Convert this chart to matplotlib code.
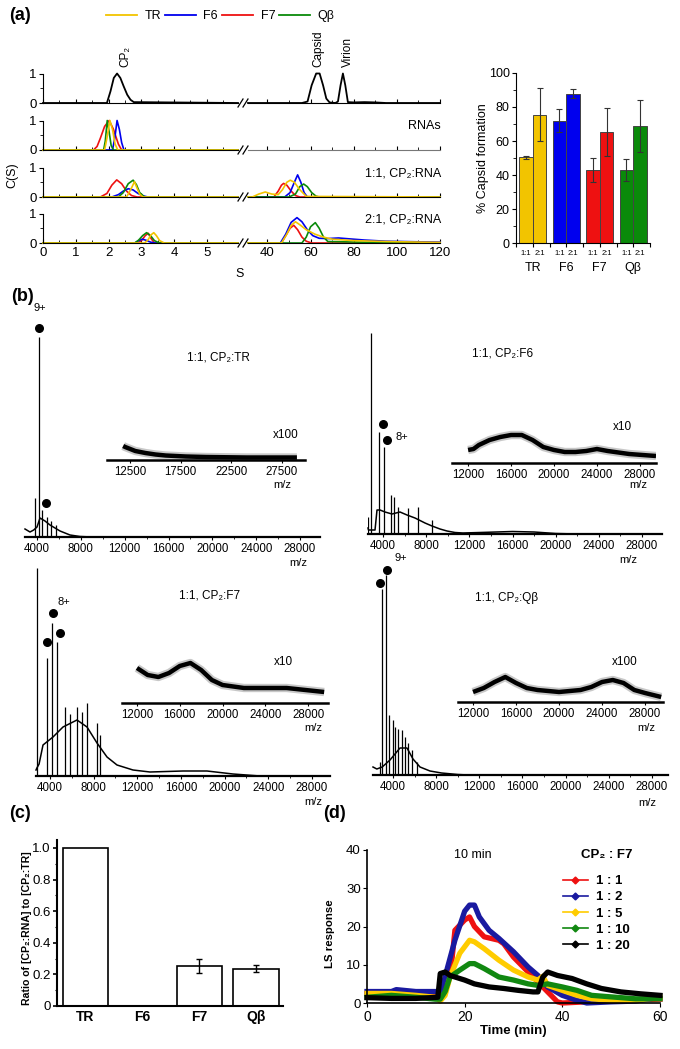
import numpy as np
import matplotlib
matplotlib.use('Agg')
import matplotlib.pyplot as plt
from matplotlib.lines import Line2D
from matplotlib.ticker import MultipleLocator, FixedLocator

plt.rcParams['font.family'] = ['Liberation Sans', 'DejaVu Sans']

#--------------------------------------------------------------------------
# data
rna_names = ['TR', 'F6', 'F7', 'Q\u03b2']
rna_colors = {'TR': '#f2c400', 'F6': '#0000ee', 'F7': '#ee1111', 'Q\u03b2': '#0a8a0a'}
draw_order = ['F7', 'F6', 'Q\u03b2', 'TR']

# (a) c(s) distributions, S on the left (0-6) and right (31-120) segments
cp2_left_s = [0, 1.95, 2.06, 2.16, 2.26, 2.36, 2.46, 2.57, 2.67, 2.77, 5.95]
cp2_left_c = [0, 0, 0.4, 0.85, 1.0, 0.85, 0.57, 0.28, 0.11, 0.03, 0]
cp2_right_s = [31, 56, 58.6, 60.5, 62.6, 64.2, 65.8, 67.3, 68.8, 71.5, 72.7, 73.9, 75, 76.1, 77.3, 80, 85, 90, 95, 120]
cp2_right_c = [0, 0, 0.05, 0.6, 1.0, 1.0, 0.6, 0.15, 0.02, 0, 0.05, 0.6, 1.0, 0.6, 0.03, 0.02, 0.03, 0.02, 0, 0]

rnas_left = {
    'F7': ([0, 1.54, 1.65, 1.75, 1.88, 2.02, 2.15, 2.3, 2.4, 5.95], [0, 0, 0.12, 0.4, 0.8, 1.0, 0.7, 0.2, 0, 0]),
    'F6': ([0, 2.12, 2.19, 2.26, 2.33, 2.4, 2.47, 5.95], [0, 0, 0.4, 1.0, 0.7, 0.25, 0, 0]),
    'Q\u03b2': ([0, 1.85, 1.9, 1.96, 2.02, 2.08, 2.15, 5.95], [0, 0, 0.3, 1.0, 0.6, 0.15, 0, 0]),
    'TR': ([0, 1.88, 1.95, 2.04, 2.12, 2.2, 2.28, 5.95], [0, 0, 0.4, 1.0, 0.7, 0.2, 0, 0]),
}

mix11_left = {
    'F7': ([0, 1.75, 1.95, 2.1, 2.25, 2.4, 2.55, 2.7, 2.87, 5.95], [0, 0, 0.12, 0.4, 0.58, 0.45, 0.2, 0.05, 0, 0]),
    'F6': ([0, 2.1, 2.3, 2.45, 2.6, 2.75, 2.9, 3.05, 3.2, 5.95], [0, 0, 0.08, 0.2, 0.28, 0.24, 0.12, 0.04, 0, 0]),
    'Q\u03b2': ([0, 2.3, 2.45, 2.6, 2.75, 2.85, 2.95, 3.1, 5.95], [0, 0, 0.15, 0.45, 0.57, 0.42, 0.15, 0, 0]),
    'TR': ([0, 2.55, 2.65, 2.72, 2.79, 2.87, 2.95, 3.05, 5.95], [0, 0, 0.2, 0.35, 0.52, 0.3, 0.1, 0, 0]),
}
mix11_right = {
    'F7': ([31, 43, 45, 46.5, 47.5, 49, 51, 53, 55, 120], [0, 0, 0.2, 0.4, 0.46, 0.4, 0.2, 0.05, 0, 0]),
    'F6': ([31, 48, 50.5, 52.5, 54, 55.5, 57, 58.5, 120], [0, 0, 0.15, 0.5, 0.75, 0.5, 0.15, 0, 0]),
    'Q\u03b2': ([31, 50, 53, 55, 56.8, 58.5, 60.5, 62.5, 64, 120], [0, 0, 0.1, 0.35, 0.44, 0.35, 0.15, 0.03, 0, 0]),
    'TR': ([31, 33, 36, 39, 42, 45, 47, 49, 50.6, 52.5, 55, 58, 120], [0, 0, 0.1, 0.17, 0.1, 0.08, 0.25, 0.5, 0.57, 0.5, 0.25, 0.02, 0]),
}
mix21_left = {
    'F7': ([0, 2.9, 3.02, 3.12, 3.21, 3.3, 3.4, 5.95], [0, 0, 0.1, 0.25, 0.33, 0.15, 0, 0]),
    'F6': ([0, 2.8, 2.92, 3.03, 3.15, 3.28, 3.4, 5.95], [0, 0, 0.08, 0.13, 0.09, 0.03, 0, 0]),
    'Q\u03b2': ([0, 2.8, 2.92, 3.04, 3.16, 3.28, 3.4, 3.55, 5.95], [0, 0, 0.1, 0.25, 0.35, 0.25, 0.08, 0, 0]),
    'TR': ([0, 3.1, 3.2, 3.3, 3.38, 3.46, 3.56, 3.7, 5.95], [0, 0, 0.1, 0.28, 0.35, 0.25, 0.08, 0, 0]),
}
mix21_right = {
    'F7': ([31, 46.5, 48.5, 50.5, 52.2, 54, 56, 58, 60.5, 120], [0, 0, 0.25, 0.5, 0.6, 0.45, 0.2, 0.06, 0, 0]),
    'TR': ([31, 46.5, 49, 51, 53, 55, 58, 62, 66, 70, 80, 95, 110, 120], [0, 0, 0.3, 0.6, 0.72, 0.62, 0.45, 0.3, 0.2, 0.13, 0.08, 0.05, 0.03, 0.02]),
    'Q\u03b2': ([31, 56, 58, 60, 62.2, 64, 66, 68, 75, 90, 120], [0, 0, 0.2, 0.55, 0.69, 0.5, 0.2, 0.05, 0.04, 0.02, 0]),
    'F6': ([31, 46, 48.5, 51, 53.7, 56, 58.5, 61, 64, 68, 73, 78, 85, 95, 110, 120], [0, 0, 0.3, 0.7, 0.86, 0.72, 0.45, 0.25, 0.16, 0.15, 0.17, 0.14, 0.1, 0.06, 0.04, 0.03]),
}
row_texts = ['', 'RNAs', '1:1, CP\u2082:RNA', '2:1, CP\u2082:RNA']

# (a) % capsid formation
capsid_11 = [50.3, 72.0, 42.9, 42.9]
capsid_11_err = [1.0, 6.6, 7.3, 6.5]
capsid_21 = [75.5, 87.8, 65.2, 68.7]
capsid_21_err = [15.4, 2.5, 14.3, 15.3]

# (b) mass spectra (m/z, relative intensity)
tr_env_mz = [2905, 3360, 3700, 4000, 4274, 4730, 5186, 5643, 6099, 6555, 7011, 7925, 9000, 29800]
tr_env_i = [8, 5, 7, 10, 19, 16, 12, 9, 6, 4, 2, 0.5, 0, 0]
tr_peak_mz = [3818, 4137, 4450, 4900, 5300, 5700]
tr_peak_i = [39, 200, 27, 20, 16, 12]
tr_dot_mz = [4137, 4793]
tr_dot_i = [209, 34]
tr_ins_mz = [11800, 12000, 12500, 13000, 14000, 15000, 16000, 18000, 20000, 24000, 29000]
tr_ins_i = [14, 13, 11, 9, 7, 5.5, 4.5, 3.5, 3, 2.5, 2.5]

f6_env_mz = [2610, 2650, 3260, 3444, 3722, 4185, 4834, 5575, 6224, 6965, 7892, 8540, 9282, 9930, 10670, 11400, 13000, 16000, 18000, 20000, 22000, 29853]
f6_env_i = [6, 4, 4, 24, 24, 22, 20, 22, 19, 16, 11, 8, 5, 3, 1.5, 1, 1.5, 2.5, 2, 0.5, 0, 0]
f6_peak_mz = [2630, 2888, 3657, 4120, 4710, 5020, 5390, 6316, 7243, 8540]
f6_peak_i = [17, 201, 102, 87, 39, 37, 27, 26, 27, 14]
f6_dot_mz = [4000, 4370]
f6_dot_i = [110, 94]
f6_ins_mz = [12000, 12500, 13000, 14000, 15000, 16000, 17000, 18000, 19000, 20000, 21000, 22000, 23000, 24000, 25000, 27000, 29500]
f6_ins_i = [13, 14, 18, 23, 26, 28, 28, 23, 16, 13, 11, 11, 12, 14, 12, 9, 7]

f7_env_mz = [2718, 2800, 3000, 3359, 4275, 5191, 6474, 7390, 8306, 9222, 10138, 11603, 13160, 16183, 18380, 20763, 23236, 29649]
f7_env_i = [6, 8, 12, 31, 39, 49, 56, 49, 33, 19, 11, 6, 4, 5, 5, 2, 0, 0]
f7_peak_mz = [2800, 3725, 4184, 4642, 5375, 5832, 6474, 6932, 7390, 8306, 8580]
f7_peak_i = [208, 118, 153, 134, 69, 62, 69, 64, 73, 53, 41]
f7_dot_mz = [3725, 4275, 4916]
f7_dot_i = [134, 163, 143]
f7_ins_mz = [12000, 13000, 14000, 15000, 16000, 17000, 18000, 19000, 20000, 22000, 26000, 29500]
f7_ins_i = [35, 28, 26, 30, 37, 40, 33, 23, 18, 15, 15, 11]

qb_env_mz = [2147, 2500, 3000, 3722, 4649, 5297, 5853, 6502, 7428, 8500, 10000, 11000, 29483]
qb_env_i = [8, 6, 8, 15, 27, 27, 16, 8, 4, 2, 0.5, 0, 0]
qb_peak_mz = [2796, 2981, 3352, 3630, 3999, 4185, 4460, 4834, 5112, 5390, 5760, 6224]
qb_peak_i = [13, 186, 200, 60, 55, 48, 46, 45, 38, 32, 25, 13]
qb_dot_mz = [2796, 3444]
qb_dot_i = [192, 205]
qb_ins_mz = [12000, 13000, 14000, 15000, 16000, 17000, 18000, 20000, 22000, 23000, 24000, 25000, 26000, 27000, 28000, 29500]
qb_ins_i = [10, 14, 20, 25, 19, 14, 12, 10, 12, 15, 20, 22, 19, 12, 9, 5]

# (c) ratio of bound complexes
ratio_vals = [1.0, 0.0, 0.253, 0.237]
ratio_err = [0, 0, 0.045, 0.021]

# (d) light scattering traces, CP2:F7
ls_labels = ['1 : 1', '1 : 2', '1 : 5', '1 : 10', '1 : 20']
ls_colors = ['#ee1111', '#1a1aa0', '#ffcc00', '#118811', '#000000']
ls_t = [
    [0, 5, 10, 14.5, 15.5, 16.5, 17.3, 18, 20, 21, 22, 24, 27, 28, 30, 32, 34, 36, 38, 39, 40, 45, 50, 55, 60],
    [0, 5, 6, 10, 14.5, 15.5, 16, 18, 20, 21, 22, 23, 25, 27, 30, 33, 35, 37, 40, 43, 45, 50, 55, 60],
    [0, 5, 10, 14, 15, 16, 17, 19, 21, 22, 24, 27, 30, 33, 35, 36, 37, 40, 43, 46, 50, 55, 60],
    [0, 5, 10, 14, 15, 16, 17, 19, 21, 22, 24, 27, 30, 33, 35, 37, 40, 43, 46, 50, 55, 60],
    [0, 5, 10, 14.5, 15, 16, 17, 20, 22, 25, 28, 31, 34, 35, 36, 37, 39, 42, 45, 48, 52, 56, 60],
]
ls_v = [
    [2.5, 2.8, 2.5, 2.5, 3, 6, 10, 19, 21.7, 22.5, 20, 17.3, 16.4, 15.5, 12, 9.4, 6.8, 4.2, 1.6, 0.3, 0, 0.3, 0.5, 0.8, 1],
    [3, 3, 3.5, 3, 3, 3.5, 7, 16.4, 24, 25.6, 25.6, 22.5, 19, 16.9, 13.4, 9.4, 7.2, 4.2, 2, 0.7, 0, 0.3, 0.5, 1.5],
    [2.5, 2.5, 2, 1.5, 0.5, 2, 6.8, 13, 16.4, 16, 14.2, 11.2, 8.6, 6.8, 6, 7, 4.6, 3.3, 2, 1.1, 0.7, 0.7, 1.5],
    [1.5, 2, 1.5, 1, 1, 3, 6.8, 8.6, 10.3, 10.3, 9, 6.8, 6, 5, 4.6, 5, 4.2, 3.3, 2, 1.6, 1.1, 1.1],
    [1.4, 1.2, 1.2, 1.5, 7.7, 8.1, 7.2, 6, 5, 4.2, 3.8, 3.3, 2.9, 2.9, 6.8, 8.1, 7.2, 6.4, 5, 3.8, 2.9, 2.4, 2],
]

#--------------------------------------------------------------------------
W, H = 680, 1049
fig = plt.figure(figsize=(W / 100, H / 100), dpi=100)


def box(left, top, width, height):
    return fig.add_axes([left / W, 1 - (top + height) / H, width / W, height / H])


def ftext(x, y, s, **kw):
    return fig.text(x / W, 1 - y / H, s, **kw)


def only_bottom(ax):
    for side in ['left', 'top', 'right']:
        ax.spines[side].set_visible(False)
    ax.set_yticks([])
    ax.patch.set_alpha(0)


# panel labels
for lab, px, py in [('(a)', 20, 16), ('(b)', 22, 296), ('(c)', 20, 813), ('(d)', 334, 813)]:
    ftext(px, py, lab, fontsize=13, fontweight='bold', ha='center', va='center')

#--------------------------------------------------------------------------
# (a) left: stacked c(s) with broken S axis
unit = 29.5
row_base = [103, 150, 197, 243]
left_rows = [None, rnas_left, mix11_left, mix21_left]
right_rows = [None, None, mix11_right, mix21_right]

for r, y0 in enumerate(row_base):
    top = y0 - 1.05 * unit
    axl = box(43, top, 195, 1.1 * unit)
    axr = box(248, top, 192, 1.1 * unit)
    for ax in (axl, axr):
        ax.set_ylim(-0.05, 1.05)
        ax.patch.set_alpha(0)
        ax.spines['top'].set_visible(False)
        ax.spines['right'].set_visible(False)
        ax.spines['bottom'].set_position(('data', 0))
        ax.tick_params(axis='x', direction='in', length=3, labelsize=9.5, pad=3)
        ax.tick_params(axis='x', which='minor', direction='in', length=2)
    axl.set_xlim(0, 5.95)
    axl.xaxis.set_major_locator(FixedLocator([0, 1, 2, 3, 4, 5]))
    axl.xaxis.set_minor_locator(MultipleLocator(0.5))
    axl.spines['left'].set_bounds(0, 1)
    axl.set_yticks([0, 1])
    axl.set_yticklabels(['0', '1'])
    axl.yaxis.set_minor_locator(FixedLocator([0.5]))
    axl.tick_params(axis='y', direction='out', length=3, labelsize=9.5, pad=1.5)
    axl.tick_params(axis='y', which='minor', direction='out', length=2)
    axr.set_xlim(31, 120)
    axr.xaxis.set_major_locator(FixedLocator([40, 60, 80, 100, 120]))
    axr.xaxis.set_minor_locator(FixedLocator([50, 70, 90, 110]))
    axr.spines['left'].set_visible(False)
    axr.set_yticks([])
    if r < 3:
        axl.set_xticklabels([])
        axr.set_xticklabels([])
    if r == 0:
        axl.plot(cp2_left_s, cp2_left_c, color='black', lw=1.3, clip_on=False)
        axr.plot(cp2_right_s, cp2_right_c, color='black', lw=1.3, clip_on=False)
        axl.text(2.5, 1.22, 'CP\u2082', rotation=90, ha='center', va='bottom', fontsize=8.5)
        axr.text(63.4, 1.22, 'Capsid', rotation=90, ha='center', va='bottom', fontsize=8.5)
        axr.text(77.2, 1.22, 'Virion', rotation=90, ha='center', va='bottom', fontsize=8.5)
    else:
        for name in draw_order:
            s, c = left_rows[r][name]
            axl.plot(s, c, color=rna_colors[name], lw=1.2, clip_on=False)
        if right_rows[r] is None:
            axr.spines['bottom'].set_color('#777777')
        else:
            for name in draw_order:
                s, c = right_rows[r][name]
                axr.plot(s, c, color=rna_colors[name], lw=1.2, clip_on=False)
        ftext(441, y0 - 24, row_texts[r], ha='right', va='center', fontsize=9)
    # break marks
    for dx in (0, 5):
        fig.add_artist(Line2D([(238 + dx) / W, (243 + dx) / W], [1 - (y0 + 4) / H, 1 - (y0 - 4) / H],
                              color='black', lw=0.9))

ftext(12, 175, 'C(S)', rotation=90, ha='center', va='center', fontsize=9)
ftext(240, 274, 'S', ha='center', va='center', fontsize=9)

handles = [Line2D([], [], color=rna_colors[n], lw=1.3) for n in rna_names]
fig.legend(handles, rna_names, loc='center', bbox_to_anchor=(220 / W, 1 - 16 / H), ncol=4,
           frameon=False, fontsize=9, handlelength=2.5, handletextpad=0.6, columnspacing=0.3)

#--------------------------------------------------------------------------
# (a) right: % capsid formation
axb = box(516, 73, 134, 170)
xg = np.arange(4)
cols = [rna_colors[n] for n in rna_names]
ekw = dict(lw=0.8, ecolor='#333333', capthick=0.8)
axb.bar(xg - 0.205, capsid_11, 0.41, color=cols, edgecolor='#444444', lw=0.7,
        yerr=capsid_11_err, capsize=2, error_kw=ekw)
axb.bar(xg + 0.205, capsid_21, 0.41, color=cols, edgecolor='#444444', lw=0.7,
        yerr=capsid_21_err, capsize=2, error_kw=ekw)
axb.set_xlim(-0.47, 3.47)
axb.set_ylim(0, 100)
axb.spines['top'].set_visible(False)
axb.spines['right'].set_visible(False)
axb.set_xticks(np.arange(-0.5, 3.6, 0.5))
axb.set_xticklabels([])
axb.set_yticks(np.arange(0, 101, 20))
axb.yaxis.set_minor_locator(MultipleLocator(10))
axb.tick_params(axis='y', labelsize=9, length=3, pad=1.5)
axb.tick_params(axis='y', which='minor', length=2)
axb.tick_params(axis='x', length=3)
for i, n in enumerate(rna_names):
    axb.text(i - 0.205, -0.059, '1:1', transform=axb.get_xaxis_transform(), ha='center', va='center', fontsize=5.5)
    axb.text(i + 0.205, -0.059, '2:1', transform=axb.get_xaxis_transform(), ha='center', va='center', fontsize=5.5)
    axb.text(i, -0.147, n, transform=axb.get_xaxis_transform(), ha='center', va='center', fontsize=9)
axb.set_ylabel('% Capsid formation', fontsize=9)
axb.yaxis.set_label_coords(-0.2, 0.5)

#--------------------------------------------------------------------------
# (b) native MS spectra with zoomed insets


def spectrum(main_px, xlim, env, peaks, dots, ins_px, ins_xlim, ins, ins_ticks, charge, title, scale):
    left, right, base = main_px
    ax = box(left, base - 230, right - left, 230)
    ax.set_xlim(*xlim)
    ax.set_ylim(0, 230)
    only_bottom(ax)
    ax.spines['bottom'].set_linewidth(1.6)
    ax.set_xticks(range(4000, 28001, 4000))
    ax.xaxis.set_minor_locator(MultipleLocator(2000))
    ax.tick_params(axis='x', labelsize=8.3, length=2.5, width=0.8, pad=1.5)
    ax.tick_params(axis='x', which='minor', length=1.5, width=0.6)
    ax.plot(env[0], env[1], color='black', lw=1.1, clip_on=False)
    ax.vlines(peaks[0], 0, peaks[1], color='black', lw=0.9)
    ax.scatter(dots[0], dots[1], s=30, color='black', zorder=5, clip_on=False)
    ax.text(charge[0], charge[1], charge[2], fontsize=8, ha='left', va='center')

    il, ir, ib = ins_px
    axi = box(il, ib - 50, ir - il, 50)
    axi.set_xlim(*ins_xlim)
    axi.set_ylim(0, 50)
    only_bottom(axi)
    axi.spines['bottom'].set_linewidth(1.8)
    axi.set_xticks(ins_ticks)
    axi.tick_params(axis='x', labelsize=8.3, length=2.5, width=0.8, pad=1.5)
    axi.plot(ins[0], ins[1], color='#777777', lw=6.0, alpha=0.4, solid_capstyle='butt')
    axi.plot(ins[0], ins[1], color='black', lw=3.2, solid_capstyle='butt')

    ftext(*title[:2], title[2], fontsize=8.5, ha='center', va='center')
    ftext(*scale[:2], scale[2], fontsize=8.5, ha='center', va='center')
    return ax, axi


spectrum((25, 320, 537), (2905, 29825), (tr_env_mz, tr_env_i), (tr_peak_mz, tr_peak_i), (tr_dot_mz, tr_dot_i),
         (107, 305, 460), (10200, 29800), (tr_ins_mz, tr_ins_i), [12500, 17500, 22500, 27500],
         (3650, 229, '9+'), (218, 357, '1:1, CP\u2082:TR'), (286, 435, 'x100'))
spectrum((368, 662, 534), (2610, 29853), (f6_env_mz, f6_env_i), (f6_peak_mz, f6_peak_i), (f6_dot_mz, f6_dot_i),
         (452, 656, 463), (10500, 29500), (f6_ins_mz, f6_ins_i), [12000, 16000, 20000, 24000, 28000],
         (5150, 97, '8+'), (503, 353, '1:1, CP\u2082:F6'), (622, 427, 'x10'))
spectrum((36, 330, 776), (2718, 29649), (f7_env_mz, f7_env_i), (f7_peak_mz, f7_peak_i), (f7_dot_mz, f7_dot_i),
         (122, 328, 703), (10600, 29860), (f7_ins_mz, f7_ins_i), [12000, 16000, 20000, 24000, 28000],
         (4650, 174, '8+'), (210, 595, '1:1, CP\u2082:F7'), (283, 662, 'x10'))
spectrum((373, 668, 775), (2147, 29483), (qb_env_mz, qb_env_i), (qb_peak_mz, qb_peak_i), (qb_dot_mz, qb_dot_i),
         (458, 663, 702), (10600, 29670), (qb_ins_mz, qb_ins_i), [12000, 16000, 20000, 24000, 28000],
         (4150, 217, '9+'), (507, 598, '1:1, CP\u2082:Q\u03b2'), (625, 662, 'x100'))

for px, py in [(298, 563), (282, 485), (628, 560), (638, 485), (313, 802), (313, 728), (647, 803), (646, 728)]:
    ftext(px, py, 'm/z', fontsize=8, ha='center', va='center')

#--------------------------------------------------------------------------
# (c) ratio bar chart
axc = box(57, 840, 226, 166)
axc.bar(xg, ratio_vals, 0.8, color='white', edgecolor='black', lw=1.2)
has_err = [i for i, e in enumerate(ratio_err) if e > 0]
axc.errorbar(xg[has_err], [ratio_vals[i] for i in has_err], yerr=[ratio_err[i] for i in has_err],
             fmt='none', ecolor='black', elinewidth=1.0, capsize=2, capthick=1.0)
axc.set_xlim(-0.5, 3.47)
axc.set_ylim(0, 1.05)
axc.spines['top'].set_visible(False)
axc.spines['right'].set_visible(False)
for side in ['left', 'bottom']:
    axc.spines[side].set_linewidth(1.5)
axc.set_xticks(xg)
axc.set_xticklabels(rna_names, fontweight='bold', fontsize=10)
axc.set_yticks([0, 0.2, 0.4, 0.6, 0.8, 1.0])
axc.set_yticklabels(['0', '0.2', '0.4', '0.6', '0.8', '1.0'])
axc.yaxis.set_minor_locator(MultipleLocator(0.1))
axc.tick_params(axis='y', labelsize=9.5, length=3, width=1.2, pad=1.5)
axc.tick_params(axis='y', which='minor', length=1.5, width=0.8)
axc.tick_params(axis='x', length=0, pad=3)
axc.set_ylabel('Ratio of [CP\u2082:RNA] to [CP\u2082:TR]', fontsize=7.6, fontweight='bold')
axc.yaxis.set_label_coords(-0.11, 0.47)

#--------------------------------------------------------------------------
# (d) light scattering
axd = box(367, 850, 293, 153)
for t, v, c in zip(ls_t, ls_v, ls_colors):
    axd.plot(t, v, color=c, lw=3.8, solid_joinstyle='round', clip_on=False)
axd.set_xlim(0, 60)
axd.set_ylim(0, 40)
axd.spines['top'].set_visible(False)
axd.spines['right'].set_visible(False)
for side in ['left', 'bottom']:
    axd.spines[side].set_linewidth(1.2)
axd.set_xticks([0, 20, 40, 60])
axd.set_yticks([0, 10, 20, 30, 40])
axd.tick_params(axis='x', labelsize=10, length=3, pad=2)
axd.tick_params(axis='y', labelsize=9.5, length=3, pad=1.5)
axd.set_xlabel('Time (min)', fontsize=9.5, fontweight='bold', labelpad=1)
axd.set_ylabel('LS response', fontsize=8.2, fontweight='bold')
axd.yaxis.set_label_coords(-0.11, 0.45)
ftext(473, 855, '10 min', fontsize=9, ha='center', va='center')
ftext(607, 855, 'CP\u2082 : F7', fontsize=9.5, fontweight='bold', ha='center', va='center')
lhandles = [Line2D([], [], color=c, lw=1.2, marker='D', markersize=3.5) for c in ls_colors]
leg = axd.legend(lhandles, ls_labels, loc='upper left', bbox_to_anchor=(555 / W, 1 - 867 / H),
                 bbox_transform=fig.transFigure, frameon=False, fontsize=9.5, handlelength=1.9,
                 handletextpad=0.6, labelspacing=0.3, borderpad=0.1)
for txt in leg.get_texts():
    txt.set_fontweight('bold')

fig.savefig('out.png', dpi=100)
